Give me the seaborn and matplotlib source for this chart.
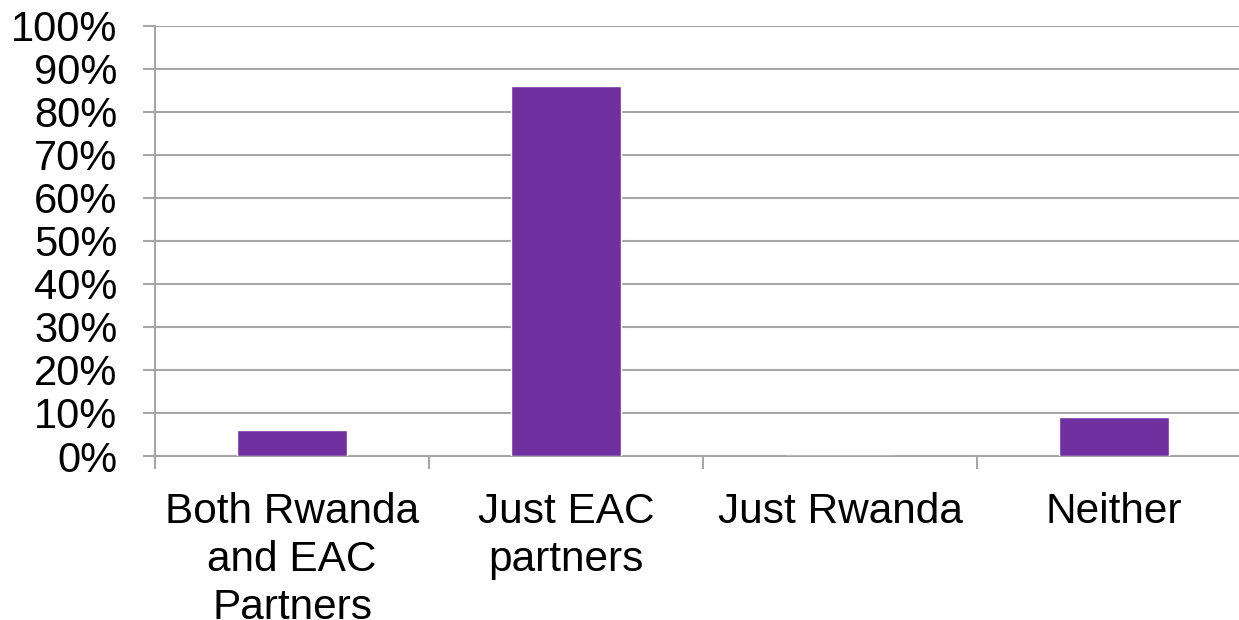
import matplotlib
matplotlib.use("Agg")
import matplotlib.pyplot as plt
import seaborn as sns
import pandas as pd
from matplotlib.ticker import MultipleLocator, FuncFormatter

categories = ["Both Rwanda\nand EAC\nPartners", "Just EAC\npartners", "Just Rwanda", "Neither"]
shares = [6, 86, 0, 9]

sns.set_style("white")
plt.rcParams["font.family"] = ["Liberation Sans", "DejaVu Sans"]
plt.rcParams["text.color"] = "black"
plt.rcParams["xtick.labelcolor"] = "black"
plt.rcParams["ytick.labelcolor"] = "black"

df = pd.DataFrame({"category": categories, "share": shares})

fig = plt.figure(figsize=(12.39, 6.2), dpi=100)
ax = fig.add_axes([155 / 1239, 1 - 456 / 620, 1096 / 1239, (456 - 25.5) / 620])

grid_color = "#a6a6a6"
sns.barplot(data=df, x="category", y="share", color="#7030A0", width=0.4,
            saturation=1, ax=ax, zorder=3)

ax.set_ylim(0, 100)
ax.set_xlim(-0.5, len(categories) - 0.5)
ax.yaxis.set_major_locator(MultipleLocator(10))
ax.yaxis.set_major_formatter(FuncFormatter(lambda v, _: f"{int(round(v))}%"))
ax.grid(axis="y", color=grid_color, linewidth=1.5, zorder=0)
ax.set_axisbelow(True)

for side in ["top", "right"]:
    ax.spines[side].set_visible(False)
for side in ["left", "bottom"]:
    ax.spines[side].set_color(grid_color)
    ax.spines[side].set_linewidth(1.5)

# category ticks sit on the boundaries between groups
ax.set_xticks([i - 0.5 for i in range(len(categories))], minor=False)
ax.set_xticklabels([])
ax.set_xticks(range(len(categories)), minor=True)
ax.set_xticklabels(categories, minor=True, fontsize=30.5, linespacing=1.25, va="top",
                   color="black")
ax.tick_params(axis="x", which="major", bottom=True, length=9, width=1.5,
               color=grid_color, direction="out")
ax.tick_params(axis="x", which="minor", bottom=True, length=0, pad=26)
ax.tick_params(axis="y", left=True, length=9, width=1.5, color=grid_color,
               direction="out", labelsize=30, pad=18, labelcolor="black")

ax.set_xlabel("")
ax.set_ylabel("")

fig.savefig("out.png", dpi=100)
